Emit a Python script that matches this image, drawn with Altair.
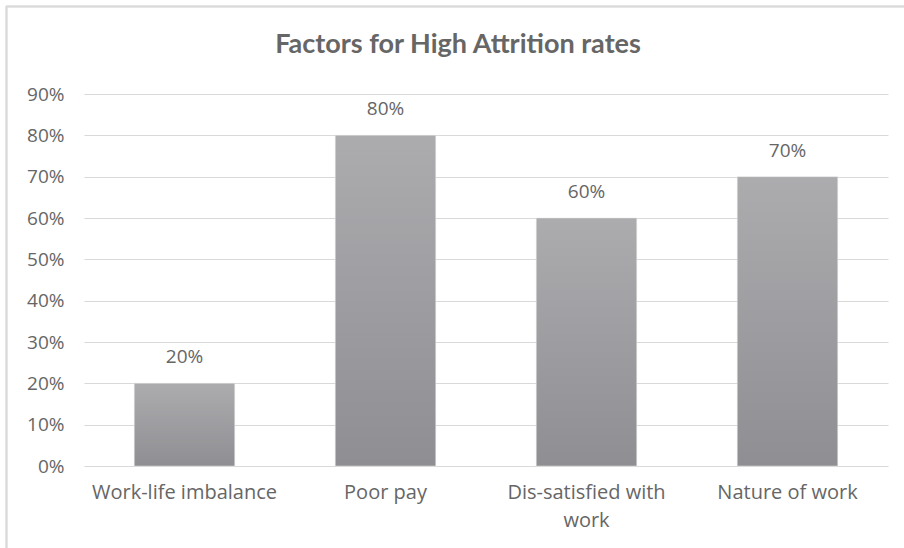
import altair as alt
import pandas as pd

categories = ["Work-life imbalance", "Poor pay", "Dis-satisfied with work", "Nature of work"]
values = [0.20, 0.80, 0.60, 0.70]
y_ticks = [0, 0.1, 0.2, 0.3, 0.4, 0.5, 0.6, 0.7, 0.8, 0.9]

df = pd.DataFrame({"factor": categories, "rate": values})

TEXT = "#666666"
FONT = "Open Sans"
FS = 19

x_enc = alt.X(
    "factor:N",
    sort=categories,
    title=None,
    scale=alt.Scale(paddingInner=0.5, paddingOuter=0.25),
    axis=alt.Axis(
        labelAngle=0,
        labelFontSize=20,
        labelColor=TEXT,
        labelFont=FONT,
        labelPadding=16,
        labelLineHeight=28,
        labelLimit=220,
        domain=False,
        ticks=False,
        grid=False,
        labelExpr="datum.label == 'Dis-satisfied with work' ? ['Dis-satisfied with', 'work'] : datum.label",
    ),
)

y_enc = alt.Y(
    "rate:Q",
    title=None,
    scale=alt.Scale(domain=[0, 0.9], nice=False),
    axis=alt.Axis(
        values=y_ticks,
        format=".0%",
        labelFontSize=FS,
        labelColor=TEXT,
        labelFont=FONT,
        labelPadding=20,
        domain=False,
        ticks=False,
        gridColor="#d9d9d9",
        gridWidth=1,
    ),
)

bars = alt.Chart(df).mark_bar(
    color=alt.Gradient(
        gradient="linear",
        stops=[
            alt.GradientStop(color="#acacaf", offset=0),
            alt.GradientStop(color="#8f8f93", offset=1),
        ],
        x1=0, x2=0, y1=0, y2=1,
    ),
    stroke="#e6e6e6",
    strokeWidth=0.5,
).encode(x=x_enc, y=y_enc)

labels = alt.Chart(df).mark_text(
    baseline="bottom", dy=-16, fontSize=FS, color=TEXT, font=FONT
).encode(x=alt.X("factor:N", sort=categories), y="rate:Q", text=alt.Text("rate:Q", format=".0%"))

border_top = alt.Chart(df).mark_rule(color="#d9d9d9", strokeWidth=1.5).encode(
    x=alt.value(-78), x2=alt.value(820), y=alt.value(-87.5)
)
border_left = alt.Chart(df).mark_rule(color="#d9d9d9", strokeWidth=1.5).encode(
    x=alt.value(-77.5), y=alt.value(-88), y2=alt.value(460)
)

chart = alt.layer(bars, labels, border_top, border_left).properties(
    width=804,
    height=372,
    autosize=alt.AutoSizeParams(type="none"),
    padding={"left": 84, "top": 94, "right": 16, "bottom": 82},
    title=alt.TitleParams(
        "Factors for High Attrition rates",
        fontSize=27,
        font="Lato",
        fontWeight="bold",
        color=TEXT,
        anchor="middle",
        frame="group",
        dx=-28,
        offset=-54,
    ),
).configure(background="white").configure_view(strokeWidth=0, stroke="transparent")

chart.save("out.html", embed_options={"renderer": "svg", "actions": False})
